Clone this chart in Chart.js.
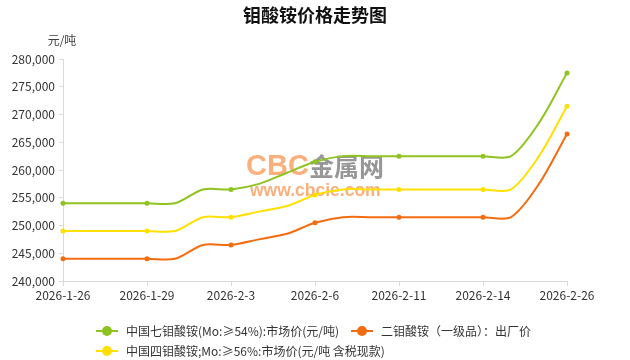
<!DOCTYPE html>
<html>
<head>
<meta charset="utf-8">
<script src="https://cdn.jsdelivr.net/npm/chart.js@4/dist/chart.umd.min.js"></script>
<style>
    html, body { margin: 0; padding: 0; background: #fff; }
    #wrap { width: 630px; height: 360px; position: relative; }
</style>
</head>
<body>
<div id="wrap"><canvas id="priceChart"></canvas></div>
<script>
// Dates (trading days), label shown on every third one
const dates = [
    '2026-1-26', '2026-1-27', '2026-1-28', '2026-1-29', '2026-1-30', '2026-2-2', '2026-2-3',
    '2026-2-4', '2026-2-5', '2026-2-6', '2026-2-9', '2026-2-10', '2026-2-11', '2026-2-12',
    '2026-2-13', '2026-2-14', '2026-2-24', '2026-2-25', '2026-2-26'
];

const seriesNames = [
    '中国七钼酸铵(Mo:≥54%):市场价(元/吨)',
    '二钼酸铵（一级品）：出厂价',
    '中国四钼酸铵;Mo:≥56%:市场价(元/吨 含税现款)'
];

const sevenMolybdate = [254000, 254000, 254000, 254000, 254000, 256500, 256500, 257500, 259500, 261500,
    262500, 262500, 262500, 262500, 262500, 262500, 262500, 268500, 277500];
const diMolybdate = [244000, 244000, 244000, 244000, 244000, 246500, 246500, 247500, 248500, 250500,
    251500, 251500, 251500, 251500, 251500, 251500, 251500, 257500, 266500];
const fourMolybdate = [249000, 249000, 249000, 249000, 249000, 251500, 251500, 252500, 253500, 255500,
    256500, 256500, 256500, 256500, 256500, 256500, 256500, 262500, 271500];

const yTicks = [240000, 245000, 250000, 255000, 260000, 265000, 270000, 275000, 280000];

const colors = ['#8fc31f', '#f36c10', '#ffe000'];
const cjkFont = '"Noto Sans CJK SC", "Noto Sans", sans-serif';

// Title, unit and watermark
const decorPlugin = {
    id: 'decor',
    beforeDatasetsDraw(chart) {
        const ctx = chart.ctx;
        ctx.save();
        ctx.textBaseline = 'middle';
        ctx.textAlign = 'left';
        ctx.font = 'bold 29px "Liberation Sans", Arial, sans-serif';
        ctx.fillStyle = 'rgba(247, 150, 82, 0.75)';
        ctx.fillText('CBC', 246, 167);
        ctx.font = 'bold 25px ' + cjkFont;
        ctx.fillStyle = 'rgba(125, 125, 125, 0.8)';
        ctx.fillText('金属网', 309, 166);
        ctx.font = 'bold 17.5px "Liberation Sans", Arial, sans-serif';
        ctx.fillStyle = 'rgba(247, 150, 82, 0.75)';
        ctx.fillText('www.cbcie.com', 250, 191);
        ctx.restore();
    },
    afterDraw(chart) {
        const ctx = chart.ctx;
        ctx.save();
        ctx.textBaseline = 'middle';
        ctx.textAlign = 'center';
        ctx.fillStyle = '#111';
        ctx.font = 'bold 18px ' + cjkFont;
        ctx.fillText('钼酸铵价格走势图', 315, 15);
        ctx.font = '12px ' + cjkFont;
        ctx.fillStyle = '#404040';
        ctx.fillText('元/吨', 62, 40);
        ctx.restore();
    }
};

// Legend with line + dot symbols, two rows
const legendPlugin = {
    id: 'lineLegend',
    afterDraw(chart) {
        const ctx = chart.ctx;
        const rows = [[0, 1], [2]];
        const rowY = [331, 351];
        ctx.save();
        ctx.font = '12px ' + cjkFont;
        ctx.textBaseline = 'middle';
        ctx.textAlign = 'left';
        rows.forEach((row, r) => {
            let x = 96;
            const y = rowY[r];
            row.forEach(i => {
                const ds = chart.data.datasets[i];
                ctx.strokeStyle = ds.borderColor;
                ctx.lineWidth = 2;
                ctx.beginPath();
                ctx.moveTo(x, y);
                ctx.lineTo(x + 22, y);
                ctx.stroke();
                ctx.fillStyle = ds.borderColor;
                ctx.beginPath();
                ctx.arc(x + 11, y, 5, 0, Math.PI * 2);
                ctx.fill();
                ctx.fillStyle = '#333';
                ctx.fillText(ds.label, x + 30, y);
                x += 30 + ctx.measureText(ds.label).width + 12;
            });
        });
        ctx.restore();
    }
};

const pointSize = (c) => (c.dataIndex % 3 === 0 ? 2.5 : 0);

const ctx = document.getElementById('priceChart').getContext('2d');
new Chart(ctx, {
    type: 'line',
    data: {
        labels: dates,
        datasets: [
            { label: seriesNames[0], data: sevenMolybdate, borderColor: colors[0], backgroundColor: colors[0] },
            { label: seriesNames[1], data: diMolybdate, borderColor: colors[1], backgroundColor: colors[1] },
            { label: seriesNames[2], data: fourMolybdate, borderColor: colors[2], backgroundColor: colors[2] }
        ].map(ds => Object.assign(ds, {
            borderWidth: 2,
            tension: 0.3,
            pointRadius: pointSize,
            pointBorderWidth: 0,
            pointHoverRadius: 3,
            fill: false
        }))
    },
    options: {
        responsive: true,
        maintainAspectRatio: false,
        animation: false,
        layout: { padding: { left: 0, right: 63, top: 59, bottom: 55 } },
        plugins: {
            legend: { display: false },
            title: { display: false },
            tooltip: { enabled: false }
        },
        scales: {
            x: {
                offset: false,
                afterFit: (scale) => { scale.height = 24; },
                border: { color: '#d9d9d9' },
                grid: {
                    drawOnChartArea: false,
                    tickLength: 5,
                    color: (c) => (c.index % 3 === 0 ? '#d9d9d9' : 'rgba(0,0,0,0)')
                },
                ticks: {
                    autoSkip: false,
                    maxRotation: 0,
                    padding: 2,
                    color: '#333',
                    font: { size: 12, family: cjkFont },
                    callback: function (value, index) {
                        return index % 3 === 0 ? this.getLabelForValue(value) : '';
                    }
                }
            },
            y: {
                min: yTicks[0],
                max: yTicks[yTicks.length - 1],
                afterFit: (scale) => { scale.width = 63; },
                afterBuildTicks: (scale) => { scale.ticks = yTicks.map(v => ({ value: v })); },
                border: { color: '#d9d9d9' },
                grid: { drawOnChartArea: false, tickLength: 4, color: '#d9d9d9' },
                ticks: {
                    padding: 4,
                    color: '#333',
                    font: { size: 12, family: cjkFont },
                    callback: (v) => v.toLocaleString('en-US')
                }
            }
        }
    },
    plugins: [decorPlugin, legendPlugin]
});
</script>
</body>
</html>
